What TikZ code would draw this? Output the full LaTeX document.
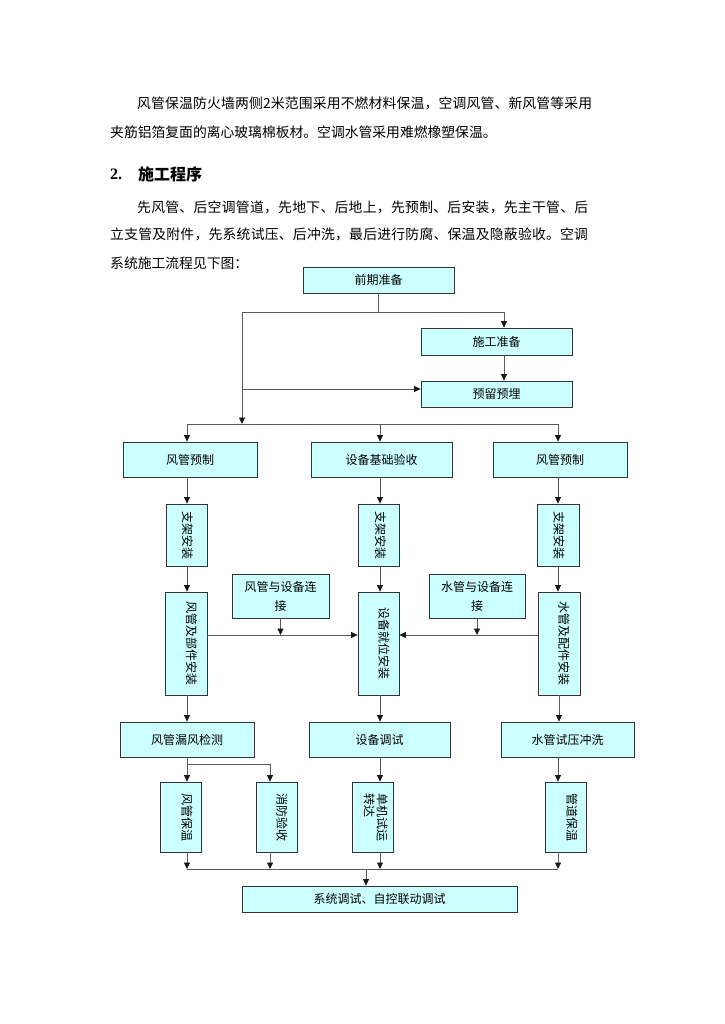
\documentclass[tikz,border=0pt]{standalone}
\usepackage{fontspec}
\setmainfont{Liberation Serif}
\newfontfamily\cjk{Noto Sans CJK SC}
\usepackage{xcolor}
\usetikzlibrary{arrows.meta}
\definecolor{boxfill}{HTML}{CCFFFF}
\colorlet{boxline}{black!80}
\colorlet{flowline}{black!65}
\colorlet{tipcolor}{black!90}
\newcommand{\vtxt}[2][5.5pt]{\hspace*{#1}\hspace*{#1}\rotatebox{-90}{#2}}

\begin{document}
\begin{tikzpicture}[x=1pt,y=-1pt,
  flowbox/.style={draw=boxline, fill=boxfill, line width=0.8pt, inner sep=0pt, align=center, font=\cjk\fontsize{12}{19}\selectfont},
  link/.style={draw=flowline, line width=0.8pt},
  arr/.style={draw=flowline, line width=0.8pt, -{Triangle[length=6.5pt,width=6pt,color=tipcolor]}},
  para/.style={anchor=west, inner sep=0pt, font=\cjk\fontsize{13.8}{13.8}\selectfont}]

  \fill[white] (0,0) rectangle (724,1024);
  \useasboundingbox (0,0) rectangle (724,1024);

  % text above the chart
  \node[para] (line1) at (137,103) {\addfontfeatures{LetterSpace=1.3}风管保温防火墙两侧2米范围采用不燃材料保温，空调风管、新风管等采用};
  \node[para] (line2) at (110,132) {夹筋铝箔复面的离心玻璃棉板材。空调水管采用难燃橡塑保温。};
  \node[anchor=west, inner sep=0pt, font=\bfseries\fontsize{16}{16}\selectfont] (sec_num) at (110,174) {2.};
  \node[anchor=west, inner sep=0pt, font=\cjk\bfseries\fontsize{16}{16}\selectfont] (sec_title) at (138,174) {施工程序};
  \node[para] (line3) at (137,207) {\addfontfeatures{LetterSpace=2.2}先风管、后空调管道，先地下、后地上，先预制、后安装，先主干管、后};
  \node[para] (line4) at (110,234) {\addfontfeatures{LetterSpace=1.9}立支管及附件，先系统试压、后冲洗，最后进行防腐、保温及隐蔽验收。空调};
  \node[para] (line5) at (110,263) {系统施工流程见下图：};

  \coordinate (col_l) at (242,0);
  \coordinate (col_r) at (504,0);
  \coordinate (col_a) at (187,0);
  \coordinate (col_b) at (270,0);
  \coordinate (col_c) at (380,0);
  \coordinate (col_d) at (558,0);
  \coordinate (col_e) at (366,0);
  \coordinate (row_top) at (0,312);
  \coordinate (row_pre) at (0,389);
  \coordinate (row_bus) at (0,424);
  \coordinate (row_join) at (0,635);
  \coordinate (row_split) at (0,764);
  \coordinate (row_bot) at (0,869);

  % preparation
  \node[flowbox, minimum width=151pt, minimum height=26pt] (pre) at (378.5,280) {前期准备};
  \node[flowbox, minimum width=151pt, minimum height=27pt] (sgzb) at (496.5,341.5) {施工准备};
  \node[flowbox, minimum width=151pt, minimum height=26pt] (ylym) at (496.5,394) {预留预埋};

  % three branches
  \node[flowbox, minimum width=134pt, minimum height=35pt] (fgyz1) at (190,459.5) {风管预制};
  \node[flowbox, minimum width=141pt, minimum height=35pt] (sbjc) at (381.5,459.5) {设备基础验收};
  \node[flowbox, minimum width=134pt, minimum height=35pt] (fgyz2) at (560,459.5) {风管预制};

  \node[flowbox, minimum width=41pt, minimum height=62pt] (zj1) at (186.5,535) {\vtxt[1pt]{支架安装}};
  \node[flowbox, minimum width=41pt, minimum height=62pt] (zj2) at (378.5,535) {\vtxt[2pt]{支架安装}};
  \node[flowbox, minimum width=42pt, minimum height=62pt] (zj3) at (558,535) {\vtxt[1pt]{支架安装}};

  \node[flowbox, minimum width=42pt, minimum height=103pt] (fgaz) at (186,643.5) {\vtxt{风管及部件安装}};
  \node[flowbox, minimum width=41pt, minimum height=103pt] (sbjw) at (378.5,643.5) {\vtxt{设备就位安装}};
  \node[flowbox, minimum width=42pt, minimum height=103pt] (sgaz) at (559,643.5) {\vtxt[5pt]{水管及配件安装}};

  \node[flowbox, minimum width=97pt, minimum height=44pt] (fglj) at (280.5,596) {风管与设备连\\接};
  \node[flowbox, minimum width=96pt, minimum height=44pt] (sglj) at (477,596) {水管与设备连\\接};

  % tests
  \node[flowbox, minimum width=134pt, minimum height=35pt] (lfjc) at (187,739.5) {风管漏风检测};
  \node[flowbox, minimum width=141pt, minimum height=35pt] (sbts) at (379.5,739.5) {设备调试};
  \node[flowbox, minimum width=133pt, minimum height=35pt] (sgsy) at (567.5,739.5) {水管试压冲洗};

  \node[flowbox, minimum width=41pt, minimum height=70pt] (fgbw) at (180.5,817) {\vtxt[6.5pt]{风管保温}};
  \node[flowbox, minimum width=41pt, minimum height=70pt] (xfys) at (276.5,817) {\vtxt{消防验收}};
  \node[flowbox, minimum width=41pt, minimum height=70pt] (djsy) at (372.5,817) {\vtxt[2.5pt]{\begin{tabular}{@{}l@{}}单机试运\\[-6pt]转达\end{tabular}}};
  \node[flowbox, minimum width=41pt, minimum height=70pt] (gdbw) at (565.5,817) {\vtxt[6.5pt]{管道保温}};

  \node[flowbox, minimum width=275pt, minimum height=26pt] (xtts) at (379.5,899) {系统调试、自控联动调试};

  % connectors, top part
  \draw[link] (pre.south) -- (pre.south |- row_top);
  \draw[link] (col_l |- row_top) -- (col_r |- row_top);
  \draw[arr] (col_r |- row_top) -- (col_r |- sgzb.north);
  \draw[arr] (col_r |- sgzb.south) -- (col_r |- ylym.north);
  \draw[arr] (col_l |- row_top) -- (col_l |- row_bus);
  \draw[arr] (col_l |- row_pre) -- (ylym.west |- row_pre);
  \draw[link] (col_a |- row_bus) -- (col_d |- row_bus);
  \draw[arr] (col_a |- row_bus) -- (col_a |- fgyz1.north);
  \draw[arr] (col_c |- row_bus) -- (col_c |- sbjc.north);
  \draw[arr] (col_d |- row_bus) -- (col_d |- fgyz2.north);

  % branches
  \draw[arr] (col_a |- fgyz1.south) -- (col_a |- zj1.north);
  \draw[arr] (col_c |- sbjc.south) -- (col_c |- zj2.north);
  \draw[arr] (col_d |- fgyz2.south) -- (col_d |- zj3.north);
  \draw[arr] (col_a |- zj1.south) -- (col_a |- fgaz.north);
  \draw[arr] (col_c |- zj2.south) -- (col_c |- sbjw.north);
  \draw[arr] (col_d |- zj3.south) -- (col_d |- sgaz.north);

  \draw[arr] (fgaz.east |- row_join) -- (sbjw.west |- row_join);
  \draw[arr] (sgaz.west |- row_join) -- (sbjw.east |- row_join);
  \draw[arr] (fglj.south) -- (fglj.south |- row_join);
  \draw[arr] (sglj.south) -- (sglj.south |- row_join);

  % tests
  \draw[arr] (col_a |- fgaz.south) -- (col_a |- lfjc.north);
  \draw[arr] (col_c |- sbjw.south) -- (col_c |- sbts.north);
  \draw[arr] (sgaz.south) -- (sgaz.south |- sgsy.north);
  \draw[arr] (col_a |- lfjc.south) -- (col_a |- fgbw.north);
  \draw[link] (col_a |- row_split) -- (col_b |- row_split);
  \draw[arr] (col_b |- row_split) -- (col_b |- xfys.north);
  \draw[arr] (col_c |- sbts.south) -- (col_c |- djsy.north);
  \draw[arr] (col_d |- sgsy.south) -- (col_d |- gdbw.north);

  % bottom
  \foreach \n/\c in {fgbw/col_a, xfys/col_b, djsy/col_c, gdbw/col_d}
    \draw[arr] (\c |- \n.south) -- (\c |- row_bot);
  \draw[link] (col_a |- row_bot) -- (col_d |- row_bot);
  \draw[arr] (col_e |- row_bot) -- (col_e |- xtts.north);

\end{tikzpicture}
\end{document}
